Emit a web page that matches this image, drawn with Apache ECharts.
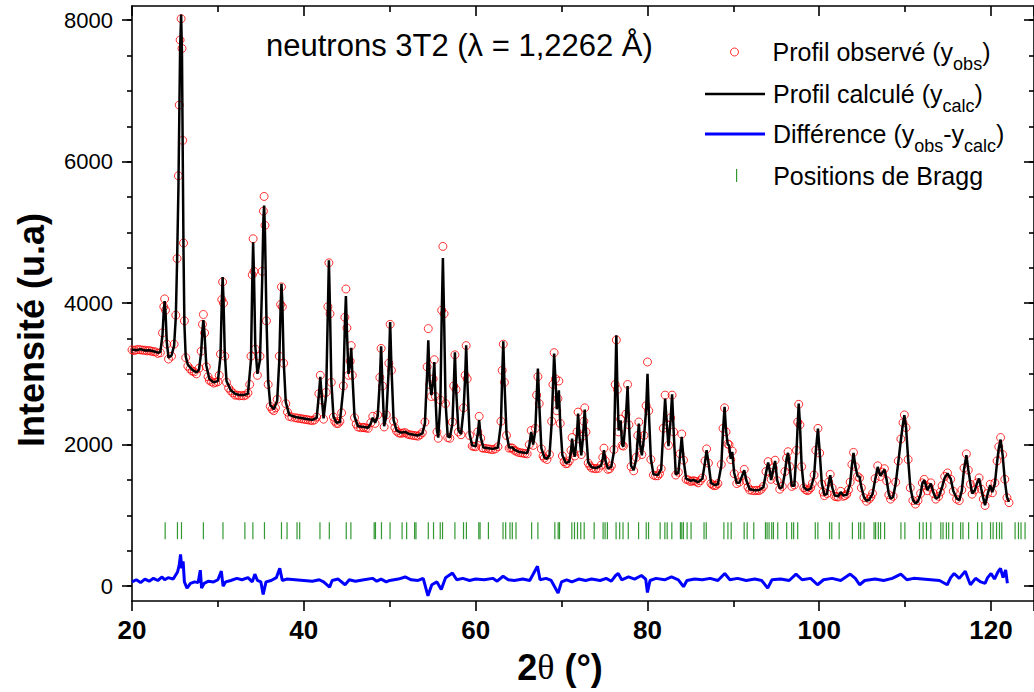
<!DOCTYPE html>
<html><head><meta charset="utf-8">
<script src="https://cdn.jsdelivr.net/npm/echarts@6/dist/echarts.min.js"></script>
<style>html,body{margin:0;padding:0;background:#fff}#c{width:1034px;height:692px}</style>
</head><body><div id="c"></div>
<script>
// ---------- DATA ----------
const calcProfile = [
[20.0,3345],[20.5,3335],[21.0,3350],[21.5,3330],[22.0,3335],[22.5,3320],[23.0,3300],[23.3,3310],
[23.55,3550],[23.7,3900],[23.8,4030],[23.9,3880],[24.05,3450],[24.25,3230],
[24.6,3260],[24.9,3400],[25.1,3800],[25.25,4600],[25.4,5600],[25.5,6600],[25.6,7600],[25.72,8080],[25.82,7500],[25.9,6200],[26.0,4700],[26.1,3700],[26.25,3250],[26.5,3130],[27.0,3060],[27.5,3020],[27.8,3060],
[28.05,3300],[28.2,3620],[28.31,3760],[28.45,3550],[28.65,3120],[29.0,2930],[29.5,2880],[30.0,2900],
[30.3,3250],[30.45,4000],[30.55,4370],[30.65,4050],[30.8,3300],[31.0,2900],[31.5,2770],[32.0,2720],[32.5,2700],[33.0,2700],[33.5,2720],
[33.85,3200],[34.0,4300],[34.1,4860],[34.2,4400],[34.35,3400],[34.6,3000],[34.9,3200],[35.15,4300],[35.3,5200],[35.38,5380],[35.48,5000],[35.65,3800],[35.85,2900],[36.1,2560],[36.5,2500],[36.9,2620],
[37.15,3200],[37.3,3950],[37.4,4275],[37.5,4000],[37.65,3200],[37.9,2600],[38.3,2420],[39.0,2390],[39.5,2380],[40.0,2370],[40.5,2360],[41.0,2350],[41.5,2380],
[41.75,2700],[41.92,2960],[42.1,2650],[42.3,2370],[42.6,2700],[42.8,3900],[42.92,4605],[43.05,3900],[43.2,2900],[43.45,2400],[43.8,2310],[44.2,2320],
[44.6,2800],[44.78,3700],[44.9,4100],[45.02,3600],[45.2,3000],[45.4,3150],[45.52,3370],[45.65,3000],[45.9,2400],[46.3,2260],[47.0,2250],[47.5,2240],[47.8,2300],[48.03,2380],[48.3,2310],[48.6,2400],
[48.85,2900],[49.0,3390],[49.15,2850],[49.35,2260],[49.6,2400],[49.9,3100],[50.05,3733],[50.2,3100],[50.45,2350],[50.8,2200],[51.3,2170],[51.8,2180],[52.3,2150],[52.8,2140],[53.3,2130],[53.8,2160],[54.1,2300],
[54.35,3000],[54.49,3475],[54.65,2900],[54.85,2700],[55.05,2900],[55.19,3168],[55.32,2700],[55.5,2200],[55.65,2100],[55.9,2600],[56.05,3800],[56.19,4638],[56.33,3800],[56.5,2600],[56.75,2120],[57.0,2100],[57.3,2300],
[57.45,2800],[57.59,3305],[57.72,2800],[58.0,2200],[58.3,2150],[58.6,2500],[58.78,2950],[58.9,3404],[59.02,2950],[59.3,2150],[59.6,1990],[60.0,1975],[60.25,2150],[60.41,2345],[60.6,2100],[60.9,1960],[61.5,1950],[62.0,1940],[62.6,1960],[62.95,2300],
[63.1,3000],[63.22,3460],[63.35,2900],[63.6,2150],[63.9,1960],[64.3,1960],[64.5,1930],[65.0,1900],[65.5,1890],[66.0,1880],[66.25,1990],[66.47,2180],[66.7,2000],[66.95,2200],
[67.1,2650],[67.25,3075],[67.4,2600],[67.65,1950],[68.0,1820],[68.3,1800],[68.6,1850],[68.85,2300],[69.0,2800],[69.14,3287],[69.3,2900],[69.45,2500],[69.58,2600],[69.69,2768],[69.85,2300],[70.1,1850],[70.5,1740],[70.9,1760],
[71.1,1900],[71.23,2086],[71.4,1900],[71.55,1830],[71.8,2150],[71.93,2439],[72.1,2100],[72.3,1850],[72.5,2100],[72.6,2300],[72.7,2496],[72.85,2200],[73.1,1750],[73.5,1680],[74.0,1670],[74.6,1700],
[74.8,1800],[74.94,1921],[75.1,1780],[75.4,1660],[75.8,1690],[76.1,1900],[76.25,2800],[76.38,3545],[76.5,2800],[76.65,2200],[76.88,2345],[77.05,2000],[77.2,1970],[77.5,2400],[77.69,2829],[77.85,2300],[78.1,1700],[78.4,1640],[78.7,1800],
[78.88,2100],[79.0,2298],[79.15,2000],[79.35,1850],[79.6,2100],[79.85,2500],[80.01,3003],[80.15,2500],[80.4,1800],[80.7,1580],[81.2,1570],[81.6,1650],[81.85,2200],[82.06,2651],[82.25,2300],[82.45,1980],[82.7,2350],[82.87,2712],[83.05,2200],[83.3,1580],[83.6,1600],[83.8,1850],[83.99,2109],[84.2,1800],[84.5,1520],
[85.0,1490],[85.4,1500],[85.9,1470],[86.4,1520],[86.7,1750],[86.89,1921],[87.1,1750],[87.4,1460],[87.8,1430],[88.2,1440],[88.6,1700],[88.8,2200],[88.98,2533],[89.15,2200],[89.35,2000],[89.5,1992],[89.7,1800],[89.87,1897],[90.1,1600],[90.4,1460],[90.7,1460],[91.0,1550],[91.27,1638],[91.5,1500],[91.9,1370],[92.5,1356],[93.0,1360],[93.5,1400],[93.8,1600],
[94.05,1747],[94.25,1620],[94.4,1500],[94.65,1650],[94.86,1770],[95.1,1500],[95.4,1380],[95.7,1400],[96.0,1600],[96.2,1800],[96.37,1883],[96.55,1700],[96.8,1420],[97.1,1420],[97.35,1900],[97.5,2300],[97.61,2580],[97.75,2300],[97.95,1700],[98.2,1400],[98.6,1356],[99.0,1380],[99.4,1550],[99.6,1900],[99.85,2228],[100.05,1900],[100.3,1450],[100.6,1290],[100.9,1300],[101.1,1450],[101.28,1568],[101.5,1400],[101.8,1280],[102.2,1270],[102.5,1330],[102.8,1280],[103.2,1290],[103.6,1450],[103.8,1700],[103.99,1883],[104.2,1700],[104.45,1560],[104.69,1545],[104.9,1400],[105.2,1260],[105.5,1205],[105.8,1220],[106.2,1300],[106.5,1500],[106.81,1685],[107.1,1560],[107.35,1600],[107.59,1648],[107.85,1500],[108.1,1300],[108.3,1238],[108.6,1260],[108.9,1450],[109.2,1750],[109.5,2062],[109.75,2300],[109.91,2415],[110.1,2250],[110.35,1800],[110.6,1400],[110.9,1220],[111.2,1168],[111.5,1200],[111.8,1300],[112.0,1450],[112.22,1497],[112.6,1356],[112.99,1451],[113.3,1320],[113.57,1238],[113.9,1260],[114.3,1400],[114.6,1530],[114.93,1592],[115.3,1520],[115.6,1350],[116.0,1240],[116.3,1215],[116.6,1350],[116.85,1650],[117.13,1850],[117.35,1650],[117.6,1450],[117.8,1310],[118.1,1350],[118.35,1450],[118.61,1521],[118.85,1380],[119.1,1240],[119.3,1144],[119.6,1300],[119.9,1427],[120.15,1330],[120.45,1450],[120.7,1750],[120.9,1950],[121.11,2072],[121.35,1850],[121.6,1500],[121.85,1260],[122.09,1191]
];
const obsProfile = [
[20.0,3340],[20.25,3330],[20.5,3340],[20.75,3345],[21.0,3340],[21.25,3335],[21.5,3335],[21.75,3325],[22.0,3330],[22.25,3320],[22.5,3315],[22.75,3310],[23.0,3290],[23.3,3300],
[23.55,3580],[23.7,3950],[23.8,4060],[23.9,3900],[24.05,3420],[24.25,3210],
[24.6,3250],[24.9,3420],[25.1,3830],[25.25,4630],[25.4,5800],[25.5,6800],[25.6,7720],[25.72,8020],[25.82,7600],[25.9,6300],[26.0,4850],[26.1,3750],[26.25,3230],[26.5,3110],[26.75,3070],[27.0,3040],[27.25,3030],[27.5,3000],[27.8,3080],
[28.05,3320],[28.2,3700],[28.31,3840],[28.45,3580],[28.65,3100],[28.85,2960],[29.0,2910],[29.25,2890],[29.5,2870],[29.75,2880],[30.0,2890],[30.15,2980],
[30.3,3280],[30.45,4050],[30.55,4300],[30.65,4000],[30.8,3250],[31.0,2880],[31.25,2800],[31.5,2760],[31.75,2730],[32.0,2700],[32.25,2700],[32.5,2690],[32.75,2695],[33.0,2690],[33.25,2700],[33.5,2730],[33.7,2850],
[33.85,3250],[34.0,4400],[34.1,4910],[34.2,4450],[34.35,3350],[34.6,2980],[34.9,3250],[35.15,4450],[35.3,5300],[35.38,5508],[35.48,5100],[35.65,3750],[35.85,2850],[36.1,2540],[36.3,2500],[36.5,2480],[36.7,2520],[36.9,2640],
[37.15,3250],[37.3,3980],[37.4,4230],[37.5,3950],[37.65,3150],[37.9,2580],[38.1,2460],[38.3,2400],[38.6,2390],[39.0,2380],[39.25,2375],[39.5,2370],[39.75,2365],[40.0,2360],[40.25,2355],[40.5,2350],[40.75,2345],[41.0,2340],[41.25,2350],[41.5,2390],
[41.75,2720],[41.92,2980],[42.1,2630],[42.3,2360],[42.6,2740],[42.8,3950],[42.92,4570],[43.05,3850],[43.2,2880],[43.45,2390],[43.6,2330],[43.8,2300],[44.0,2300],[44.2,2330],[44.4,2450],
[44.6,2830],[44.78,3800],[44.9,4200],[45.02,3650],[45.2,2980],[45.4,3180],[45.52,3400],[45.65,2980],[45.9,2380],[46.1,2290],[46.3,2250],[46.6,2240],[46.9,2245],[47.0,2240],[47.25,2235],[47.5,2230],[47.8,2310],[48.03,2400],[48.3,2300],[48.6,2420],
[48.85,2950],[49.0,3360],[49.15,2830],[49.35,2250],[49.6,2420],[49.9,3150],[50.05,3700],[50.2,3050],[50.45,2330],[50.6,2240],[50.8,2190],[51.05,2165],[51.3,2160],[51.55,2165],[51.8,2170],[52.05,2150],[52.3,2140],[52.55,2135],[52.8,2130],[53.05,2125],[53.3,2120],[53.55,2140],[53.8,2170],[54.1,2320],
[54.35,3100],[54.49,3640],[54.65,2850],[54.85,2680],[55.05,2930],[55.19,3200],[55.32,2680],[55.5,2180],[55.65,2090],[55.9,2630],[56.05,3900],[56.19,4802],[56.33,3850],[56.5,2580],[56.75,2100],[57.0,2090],[57.3,2320],
[57.45,2830],[57.59,3270],[57.72,2780],[58.0,2180],[58.3,2140],[58.6,2520],[58.78,2980],[58.9,3400],[59.02,2930],[59.3,2130],[59.6,1980],[59.8,1975],[60.0,1970],[60.25,2180],[60.41,2400],[60.6,2090],[60.75,1955],[60.9,1950],[61.2,1945],[61.5,1940],[61.75,1935],[62.0,1930],[62.3,1940],[62.6,1970],[62.95,2330],
[63.1,3050],[63.22,3420],[63.35,2880],[63.6,2130],[63.9,1950],[64.1,1955],[64.3,1950],[64.5,1920],[64.75,1905],[65.0,1890],[65.25,1885],[65.5,1880],[65.75,1875],[66.0,1870],[66.25,2000],[66.47,2200],[66.7,1990],[66.95,2230],
[67.1,2700],[67.25,2960],[67.4,2580],[67.65,1940],[67.85,1840],[68.0,1810],[68.3,1790],[68.6,1860],[68.85,2330],[69.0,2850],[69.14,3300],[69.3,2930],[69.45,2480],[69.58,2650],[69.69,2900],[69.85,2300],[70.1,1840],[70.3,1760],[70.5,1730],[70.7,1735],[70.9,1770],
[71.1,1920],[71.23,2100],[71.4,1890],[71.55,1840],[71.8,2180],[71.93,2460],[72.1,2080],[72.3,1860],[72.5,2120],[72.6,2330],[72.7,2520],[72.85,2180],[73.1,1740],[73.3,1700],[73.5,1670],[73.75,1665],[74.0,1660],[74.3,1665],[74.6,1710],
[74.8,1820],[74.94,1950],[75.1,1770],[75.4,1650],[75.6,1660],[75.8,1700],[76.1,1930],[76.25,2850],[76.38,3480],[76.5,2780],[76.65,2180],[76.88,2360],[77.05,1990],[77.2,1980],[77.5,2430],[77.69,2850],[77.85,2280],[78.1,1690],[78.4,1630],[78.7,1820],
[78.88,2130],[79.0,2320],[79.15,1990],[79.35,1860],[79.6,2130],[79.85,2550],[80.01,3168],[80.15,2480],[80.4,1790],[80.7,1570],[80.95,1560],[81.2,1560],[81.4,1590],[81.6,1660],[81.85,2230],[82.06,2700],[82.25,2280],[82.45,1990],[82.7,2380],[82.87,2700],[83.05,2180],[83.3,1570],[83.6,1610],[83.8,1870],[83.99,2150],[84.2,1780],[84.5,1510],
[84.75,1500],[85.0,1480],[85.2,1485],[85.4,1490],[85.65,1480],[85.9,1460],[86.15,1490],[86.4,1530],[86.7,1770],[86.89,1940],[87.1,1740],[87.4,1450],[87.6,1430],[87.8,1420],[88.0,1425],[88.2,1450],[88.6,1720],[88.8,2230],[88.98,2520],[89.15,2180],[89.35,2010],[89.5,2000],[89.7,1790],[89.87,1910],[90.1,1590],[90.4,1450],[90.7,1470],[91.0,1560],[91.27,1650],[91.5,1490],[91.7,1400],[91.9,1360],[92.2,1352],[92.5,1350],[92.75,1355],[93.0,1350],[93.25,1370],[93.5,1410],[93.8,1620],
[94.05,1760],[94.25,1610],[94.4,1510],[94.65,1670],[94.86,1780],[95.1,1490],[95.4,1370],[95.7,1410],[96.0,1620],[96.2,1810],[96.37,1900],[96.55,1690],[96.8,1410],[97.1,1430],[97.35,1920],[97.5,2320],[97.61,2570],[97.75,2280],[97.95,1690],[98.2,1390],[98.4,1365],[98.6,1350],[98.8,1360],[99.0,1390],[99.2,1450],[99.4,1570],[99.6,1920],[99.85,2230],[100.05,1880],[100.3,1440],[100.45,1330],[100.6,1280],[100.9,1310],[101.1,1470],[101.28,1580],[101.5,1390],[101.8,1270],[102.0,1265],[102.2,1260],[102.5,1340],[102.8,1270],[103.0,1280],[103.2,1300],[103.4,1360],[103.6,1470],[103.8,1720],[103.99,1890],[104.2,1690],[104.45,1550],[104.69,1530],[104.9,1390],[105.2,1250],[105.5,1200],[105.8,1230],[106.0,1260],[106.2,1310],[106.5,1520],[106.81,1700],[107.1,1550],[107.35,1610],[107.59,1660],[107.85,1490],[108.1,1290],[108.3,1230],[108.6,1270],[108.9,1470],[109.2,1770],[109.5,2080],[109.75,2310],[109.91,2420],[110.1,2240],[110.35,1790],[110.6,1390],[110.9,1210],[111.2,1160],[111.5,1210],[111.8,1310],[112.0,1460],[112.22,1510],[112.4,1420],[112.6,1350],[112.8,1400],[112.99,1460],[113.3,1310],[113.57,1230],[113.9,1270],[114.1,1330],[114.3,1420],[114.6,1550],[114.93,1600],[115.3,1510],[115.6,1340],[116.0,1230],[116.3,1210],[116.6,1360],[116.85,1670],[117.13,1870],[117.35,1640],[117.6,1440],[117.8,1300],[118.1,1360],[118.35,1460],[118.61,1530],[118.85,1370],[119.1,1230],[119.3,1140],[119.6,1310],[119.9,1440],[120.15,1320],[120.45,1460],[120.7,1770],[120.9,1970],[121.11,2100],[121.35,1860],[121.6,1510],[121.85,1250],[122.09,1180]
];
const diffProfile = [
[20,60],[20.5,90],[21,50],[21.5,100],[22,70],[22.5,110],[23,80],[23.5,130],[23.8,90],[24.2,120],[24.8,100],[25.3,200],[25.5,300],[25.65,448],[25.8,250],[25.95,350],[26.1,60],[26.4,-30],[26.8,40],[27.3,60],[27.7,50],[27.95,226],[28.1,-28],[28.4,40],[28.9,70],[29.5,60],[30.0,90],[30.4,212],[30.6,0],[30.9,60],[31.5,80],[32.2,110],[32.8,90],[33.5,120],[34.0,60],[34.3,170],[34.6,80],[35.0,60],[35.27,-117],[35.6,60],[36.2,80],[36.8,120],[37.2,251],[37.5,80],[38.0,100],[39.0,90],[40.0,80],[41.0,70],[41.8,90],[42.3,60],[43.0,-14],[43.3,80],[44.0,100],[44.8,20],[45.3,90],[46.0,70],[47.0,90],[48.0,110],[48.5,70],[49.0,100],[49.6,60],[50.0,80],[51.0,100],[51.8,130],[52.5,90],[53.3,80],[53.9,110],[54.45,-137],[54.9,20],[55.5,60],[56.0,-46],[56.5,120],[57.3,186],[57.8,90],[58.5,110],[59.3,80],[60.0,100],[61.0,90],[62.0,110],[62.5,70],[63.2,140],[63.8,90],[64.5,80],[65.5,100],[66.3,80],[67.2,282],[67.5,90],[68.2,110],[68.8,80],[69.6,-99],[70.0,60],[70.6,90],[71.2,60],[72.0,100],[72.8,80],[73.5,100],[74.5,80],[75.2,110],[75.8,70],[76.3,150],[76.6,179],[77.0,90],[77.8,130],[78.5,100],[79.3,150],[79.8,100],[80.0,-89],[80.3,80],[81.0,110],[82.0,90],[82.8,130],[83.6,90],[84.2,-8],[84.6,80],[85.5,100],[86.4,90],[87.3,110],[88.2,80],[89.0,179],[89.6,90],[90.5,110],[91.5,80],[92.5,100],[93.3,80],[94.0,-28],[94.5,90],[95.5,100],[96.5,80],[97.3,170],[98.0,90],[99.0,110],[99.8,20],[100.5,90],[101.5,110],[102.5,80],[103.6,170],[104.2,110],[104.7,20],[105.3,80],[106.5,100],[107.5,80],[108.5,110],[109.5,170],[110.2,90],[111.0,110],[112.0,100],[113.0,90],[114.0,80],[114.9,20],[115.3,120],[115.7,179],[116.3,110],[117.0,212],[117.4,80],[117.6,20],[118.2,110],[118.8,60],[119.3,40],[119.6,120],[120.0,179],[120.4,100],[120.8,200],[121.1,250],[121.4,120],[121.7,230],[121.9,40]
];
const braggPositions = [23.86,25.29,25.76,28.31,30.59,33.14,34.07,35.42,37.40,38.05,39.21,39.52,41.88,42.97,44.94,45.48,48.19,48.34,49.04,50.04,51.44,51.97,52.90,53.06,54.49,55.10,55.88,56.15,57.59,58.59,58.93,60.37,60.52,61.49,63.19,63.50,64.00,64.27,64.70,66.52,67.25,69.22,69.61,69.77,71.20,71.51,71.86,72.24,72.64,73.80,74.84,75.07,75.34,76.35,76.77,77.16,77.77,78.97,79.86,80.13,81.48,82.03,82.30,82.84,83.84,84.00,84.19,84.62,85.08,86.59,86.85,88.90,89.37,89.75,91.26,91.61,92.38,93.74,93.93,94.16,94.47,94.67,95.17,96.21,96.79,97.02,97.49,99.54,99.84,101.20,101.46,102.32,103.86,104.59,104.82,105.22,106.38,106.56,106.88,107.14,107.61,109.51,109.97,111.67,112.09,112.48,112.99,114.15,114.41,114.80,115.07,115.54,116.46,116.73,117.39,118.43,118.93,119.94,120.24,120.64,120.98,121.25,122.80,123.19,123.49,123.96];
const braggLevel = 784;
const yMajorTicks = [0,2000,4000,6000,8000];
const yMinorTicks = [0,500,1000,1500,2000,2500,3000,3500,4000,4500,5000,5500,6000,6500,7000,7500,8000];
const chartTitle = 'neutrons 3T2 (λ = 1,2262 Å)';
const xTitleParts = ['2','θ',' (°)'];
const yTitle = 'Intensité (u.a)';

// ---------- CHART ----------
const FONT = "'Liberation Sans', Arial, sans-serif";
const X = {min:20, max:125, interval:20};
const Y = {min:-210, max:8200};
const chart = echarts.init(document.getElementById('c'), null, {renderer:'svg'});
const axisLineStyle = {color:'#000', width:1.6};
const rich = {
  t:{fontSize:25, fontFamily:FONT, color:'#000', lineHeight:28},
  s:{fontSize:18, fontFamily:FONT, color:'#000', lineHeight:18, padding:[24,0,0,0]}
};
function leg(name, icon, w, h, left, top, itemStyle, fmt, padLeft){
  return {data:[{name, icon, itemStyle}], left, top, orient:'vertical', padding:0,
    itemWidth:w, itemHeight:h, selectedMode:false, formatter:()=>fmt,
    textStyle:{rich, padding:[0,0,0,padLeft]}};
}
const option = {
  animation:false,
  backgroundColor:'#fff',
  title:{text:chartTitle, left:266, top:30, padding:0,
    textStyle:{fontFamily:FONT, fontSize:31, fontWeight:'normal', color:'#000'}},
  grid:{left:132, top:6, width:905.6, height:595, containLabel:false},
  legend:[
    leg('Profil observé','circle',60,8,730,31,{color:'rgba(0,0,0,0)',borderColor:'#ff0000',borderWidth:1},'{t|Profil observé (y}{s|obs}{t|)}',3),
    leg('Profil calculé','rect',60,2.5,705,73,{color:'#000',borderWidth:0},'{t|Profil calculé (y}{s|calc}{t|)}',3),
    leg('Différence','rect',60,3,705,113,{color:'#0000ff',borderWidth:0},'{t|Différence (y}{s|obs}{t|-y}{s|calc}{t|)}',3),
    leg('Positions de Bragg','rect',1.2,13,736,163,{color:'#008000',borderWidth:0},'{t|Positions de Bragg}',31)
  ],
  xAxis:[
    {type:'value', min:X.min, max:X.max, interval:X.interval, position:'bottom',
     axisLine:{show:true, onZero:false, lineStyle:axisLineStyle},
     axisTick:{show:true, length:10, lineStyle:axisLineStyle},
     minorTick:{show:true, splitNumber:2, length:6, lineStyle:axisLineStyle},
     axisLabel:{show:true, showMaxLabel:false, margin:16, color:'#000', fontFamily:FONT, fontSize:26, fontWeight:'bold',
       formatter:v=>String(v)},
     splitLine:{show:false}, minorSplitLine:{show:false}},
    {type:'value', min:X.min, max:X.max, interval:X.interval, position:'top',
     axisLine:{show:true, onZero:false, lineStyle:axisLineStyle},
     axisTick:{show:true, inside:true, length:10, lineStyle:axisLineStyle},
     minorTick:{show:true, splitNumber:2, length:6, lineStyle:axisLineStyle},
     axisLabel:{show:false}, splitLine:{show:false}}
  ],
  yAxis:[
    {type:'value', min:Y.min, max:Y.max, position:'left',
     axisLine:{show:true, onZero:false, lineStyle:axisLineStyle},
     axisTick:{show:true, length:10, customValues:yMajorTicks, lineStyle:axisLineStyle},
     axisLabel:{show:true, customValues:yMajorTicks, margin:19, color:'#000', fontFamily:FONT, fontSize:22,
       formatter:v=>String(v)},
     splitLine:{show:false}},
    {type:'value', min:Y.min, max:Y.max, position:'left',
     axisLine:{show:false},
     axisTick:{show:true, length:5, customValues:yMinorTicks, lineStyle:axisLineStyle},
     axisLabel:{show:false}, splitLine:{show:false}},
    {type:'value', min:Y.min, max:Y.max, position:'right',
     axisLine:{show:true, onZero:false, lineStyle:axisLineStyle},
     axisTick:{show:true, inside:true, length:10, customValues:yMajorTicks, lineStyle:axisLineStyle},
     axisLabel:{show:false}, splitLine:{show:false}},
    {type:'value', min:Y.min, max:Y.max, position:'right',
     axisLine:{show:false},
     axisTick:{show:true, inside:true, length:5, customValues:yMinorTicks, lineStyle:axisLineStyle},
     axisLabel:{show:false}, splitLine:{show:false}}
  ],
  graphic:[
    {type:'text', x:31, y:330, rotation:Math.PI/2,
     style:{text:yTitle, font:"bold 36px 'Liberation Sans', Arial, sans-serif", fill:'#000', align:'center', verticalAlign:'middle'}},
    {type:'text', x:560, y:667,
     style:{text:'{b|'+xTitleParts[0]+'}{g|'+xTitleParts[1]+'}{b|'+xTitleParts[2]+'}', align:'center', verticalAlign:'middle',
       rich:{b:{fontFamily:FONT, fontSize:36, fontWeight:'bold', fill:'#000'},
             g:{fontFamily:"'Liberation Serif', 'DejaVu Serif', serif", fontSize:36, fill:'#000'}}}}
  ],
  series:[
    {name:'Profil observé', type:'scatter', data:obsProfile, symbol:'circle', symbolSize:8, z:2,
     itemStyle:{color:'rgba(0,0,0,0)', borderColor:'#ff0000', borderWidth:1}},
    {name:'Profil calculé', type:'line', data:calcProfile, showSymbol:false, symbol:'none', z:3, color:'#000',
     lineStyle:{color:'#000', width:2.5}},
    {name:'Différence', type:'line', data:diffProfile, showSymbol:false, symbol:'none', z:3, color:'#0000ff',
     lineStyle:{color:'#0000ff', width:3}},
    {name:'Positions de Bragg', type:'scatter', data:braggPositions.map(p=>[p, braggLevel]), symbol:'rect', symbolSize:[1.2,17], z:2,
     itemStyle:{color:'#008000'}}
  ]
};
chart.setOption(option);
</script>
</body></html>
